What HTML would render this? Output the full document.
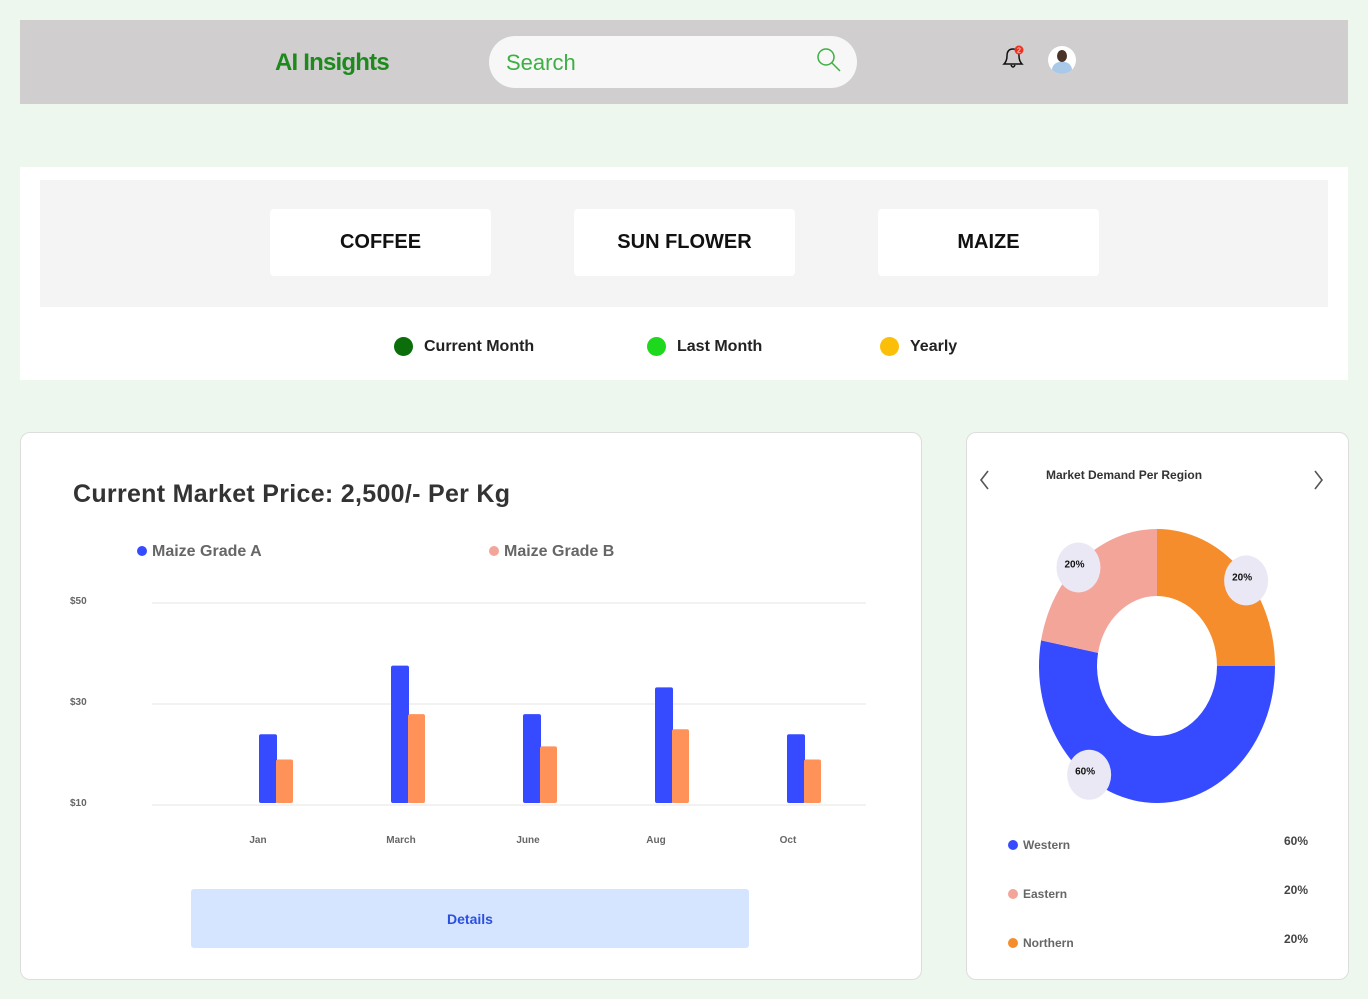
<!DOCTYPE html>
<html><head><meta charset="utf-8">
<style>
*{box-sizing:border-box;margin:0;padding:0}
body{width:1368px;height:999px;background:#edf7ee;font-family:"Liberation Sans",sans-serif;position:relative;overflow:hidden}
.abs{position:absolute}
.btn{position:absolute;top:209px;width:221px;height:67px;background:#fff;border-radius:4px;display:flex;align-items:center;justify-content:center;font-weight:bold;font-size:20px;color:#111}
.leg{position:absolute;top:337px;display:flex;align-items:center;font-size:16px;font-weight:bold;color:#222}
.leg i{display:inline-block;width:19px;height:19px;border-radius:50%;margin-right:11px}
.card{position:absolute;background:#fff;border:1px solid #ddd;border-radius:10px}
</style></head><body>
<div class="abs" style="left:20px;top:20px;width:1328px;height:84px;background:#d0cecf"></div>
<div class="abs" style="left:275px;top:49px;font-size:24px;font-weight:bold;color:#1e8a1e;letter-spacing:-0.8px">AI Insights</div>
<div class="abs" style="left:489px;top:36px;width:368px;height:52px;background:#f7f7f7;border-radius:26px">
<span style="position:absolute;left:17px;top:14px;font-size:22px;color:#3cb043">Search</span>
<svg style="position:absolute;left:327px;top:11px" width="26" height="26"><circle cx="10" cy="10" r="8" fill="none" stroke="#3cb043" stroke-width="1.5"/><line x1="16" y1="16" x2="24" y2="24" stroke="#3cb043" stroke-width="1.5"/></svg>
</div>
<svg class="abs" style="left:1000px;top:44px" width="30" height="26"><path d="M4 20 Q7 17 7 12 Q7 5 13 5 Q19 5 19 12 Q19 17 22 20 Z" fill="none" stroke="#111" stroke-width="1.5"/><path d="M11 21 Q13 25 15 21" fill="none" stroke="#111" stroke-width="1.5"/><circle cx="19" cy="6" r="4.5" fill="#e32"/><text x="19" y="8.5" font-size="7" fill="#fff" text-anchor="middle" font-family="Liberation Sans">2</text></svg>
<div class="abs" style="left:1048px;top:46px;width:28px;height:28px;border-radius:50%;background:#fff;overflow:hidden"><div style="position:absolute;left:9px;top:4px;width:10px;height:12px;border-radius:50%;background:#4a3428"></div><div style="position:absolute;left:4px;top:16px;width:20px;height:14px;border-radius:8px 8px 0 0;background:#aac8e8"></div></div>

<div class="abs" style="left:20px;top:167px;width:1328px;height:213px;background:#fff"></div>
<div class="abs" style="left:40px;top:180px;width:1288px;height:127px;background:#f4f4f4"></div>
<div class="btn" style="left:270px">COFFEE</div>
<div class="btn" style="left:574px">SUN FLOWER</div>
<div class="btn" style="left:878px">MAIZE</div>
<div class="leg" style="left:394px"><i style="background:#0b6e0b"></i>Current Month</div>
<div class="leg" style="left:647px"><i style="background:#1ed81e"></i>Last Month</div>
<div class="leg" style="left:880px"><i style="background:#fbbf0a"></i>Yearly</div>

<div class="card" style="left:20px;top:432px;width:902px;height:548px"></div>
<div class="abs" style="left:73px;top:480px;font-size:25px;font-weight:bold;color:#333;letter-spacing:0.3px">Current Market Price: 2,500/- Per Kg</div>
<div class="abs" style="left:137px;top:543px;font-size:16px;font-weight:bold;color:#666"><span style="display:inline-block;width:10px;height:10px;border-radius:50%;background:#364bff;margin-right:5px"></span>Maize Grade A</div>
<div class="abs" style="left:489px;top:543px;font-size:16px;font-weight:bold;color:#666"><span style="display:inline-block;width:10px;height:10px;border-radius:50%;background:#f4a59a;margin-right:5px"></span>Maize Grade B</div>
<svg class="abs" id="bar" style="left:0;top:0" width="921" height="880"></svg>
<div class="abs" style="left:191px;top:889px;width:558px;height:59px;background:#d5e5ff;border-radius:3px;display:flex;align-items:center;justify-content:center;font-size:14px;font-weight:bold;color:#2b4fe0">Details</div>

<div class="card" style="left:966px;top:432px;width:383px;height:548px"></div>
<div class="abs" style="left:1046px;top:468px;font-size:12px;font-weight:bold;color:#333">Market Demand Per Region</div>
<svg class="abs" style="left:978px;top:469px" width="14" height="22"><path d="M10 2 L3 11 L10 20" fill="none" stroke="#555" stroke-width="1.6"/></svg>
<svg class="abs" style="left:1312px;top:469px" width="14" height="22"><path d="M3 2 L10 11 L3 20" fill="none" stroke="#555" stroke-width="1.6"/></svg>
<svg class="abs" id="pie" style="left:966px;top:500px" width="382" height="480"></svg>

<script>
const months=["Jan","March","June","Aug","Oct"];
const gradeA=[24,37.6,28,33.3,24];
const gradeB=[19,28,21.6,25,19];
const yTicks=[10,30,50];
const regions=["Western","Eastern","Northern"];
const regionShare=[53,22,25];
const regionLabels=["60%","20%","20%"];
const NS="http://www.w3.org/2000/svg";
function mk(p,t,a){const e=document.createElementNS(NS,t);for(const k in a)e.setAttribute(k,a[k]);p.appendChild(e);return e;}
const bar=document.getElementById('bar');
const y=v=>805-(v-10)*(202/40);
const cx=i=>276+i*132;
const labOff=[-18,-7,-12,-16,-16];
yTicks.forEach(t=>{
 const l=mk(bar,'line',{x1:152,x2:866,y1:y(t),y2:y(t),stroke:'#eee','stroke-width':1.5});
 
 
 const tx=mk(bar,'text',{x:70,y:y(t)+1,'font-size':10,fill:'#666','font-weight':'bold','font-family':'Liberation Sans'});
 tx.textContent='$'+t;
 
 
});
months.forEach((m,i)=>{
 const a=mk(bar,'rect',{x:cx(i)-17,y:y(gradeA[i]),width:18,height:y(10)-2-y(gradeA[i]),rx:2,fill:'#364bff'});
 
 
 const b=mk(bar,'rect',{x:cx(i),y:y(gradeB[i]),width:17,height:y(10)-2-y(gradeB[i]),rx:2,fill:'#ff9259'});
 
 
 const t=mk(bar,'text',{x:cx(i)+labOff[i],y:843,'font-size':10,fill:'#666','text-anchor':'middle','font-weight':'bold','font-family':'Liberation Sans'});
 t.textContent=m;
 
 
});
const pie=document.getElementById('pie');
const PX=191,PY=166,RX=118,RY=137,IX=60,IY=70;
const cols=['#364bff','#f4a59a','#f58d2c'];
const bubbleFrac=[0.66,0.46,0.56];
const pt=(a,rx,ry)=>[PX+rx*Math.sin(a),PY-ry*Math.cos(a)];
const total=regionShare.reduce((s,v)=>s+v,0);
let start=Math.PI/2;const mids=[];
regionShare.forEach((v,i)=>{
 const sw=v/total*2*Math.PI,end=start+sw,lg=sw>Math.PI?1:0;
 const [x1,y1]=pt(start,RX,RY),[x2,y2]=pt(end,RX,RY),[x3,y3]=pt(end,IX,IY),[x4,y4]=pt(start,IX,IY);
 const p=mk(pie,'path',{d:`M${x1} ${y1} A${RX} ${RY} 0 ${lg} 1 ${x2} ${y2} L${x3} ${y3} A${IX} ${IY} 0 ${lg} 0 ${x4} ${y4}Z`,fill:cols[i]});
 
 
 mids.push(start+sw*bubbleFrac[i]);start=end;
});
regionLabels.forEach((l,i)=>{
 const [x,yy]=pt(mids[i],RX*0.98,RY*0.98);
 const c=mk(pie,'ellipse',{cx:x,cy:yy,rx:22,ry:25,fill:'#eae8f4'});
 
 
 const t=mk(pie,'text',{x:x-4,y:yy,'font-size':10,'font-weight':'bold','text-anchor':'middle',fill:'#111','font-family':'Liberation Sans'});
 t.textContent=l;
 
 
});
regions.forEach((r,i)=>{
 const yy=345+i*49;
 const d=mk(pie,'circle',{cx:47,cy:yy,r:5,fill:cols[i]});
 
 
 const t=mk(pie,'text',{x:57,y:yy+4,'font-size':12,'font-weight':'bold',fill:'#666','font-family':'Liberation Sans'});
 t.textContent=r;
 
 
 const v=mk(pie,'text',{x:342,y:yy,'font-size':12,'font-weight':'bold',fill:'#444','text-anchor':'end','font-family':'Liberation Sans'});
 v.textContent=regionLabels[i];
 
 
});
</script>
</body></html>
